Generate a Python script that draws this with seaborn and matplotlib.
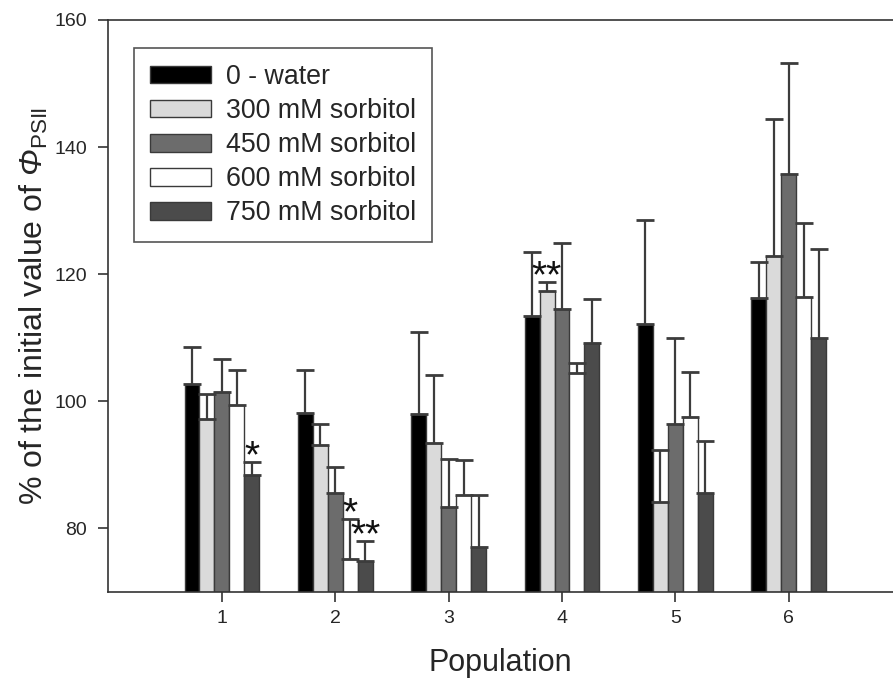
import numpy as np
import pandas as pd
import matplotlib
matplotlib.use("Agg")
import matplotlib.pyplot as plt
from matplotlib.container import BarContainer
import seaborn as sns

populations = ["1", "2", "3", "4", "5", "6"]
treatments = ["0 - water", "300 mM sorbitol", "450 mM sorbitol",
              "600 mM sorbitol", "750 mM sorbitol"]

water = [102.8, 98.2, 98.0, 113.5, 112.1, 116.2]
s300 = [97.2, 93.1, 93.4, 117.4, 84.1, 122.8]
s450 = [101.4, 85.5, 83.3, 114.5, 96.5, 135.8]
s600 = [99.4, 75.2, 85.3, 104.5, 97.6, 116.4]
s750 = [88.4, 74.9, 77.1, 109.1, 85.5, 110.0]

err_water = [5.7, 6.7, 12.9, 10.0, 16.5, 5.8]
err_300 = [4.0, 3.3, 10.7, 1.4, 8.2, 21.7]
err_450 = [5.3, 4.1, 7.6, 10.4, 13.5, 17.4]
err_600 = [5.5, 6.3, 5.5, 1.6, 7.0, 11.6]
err_750 = [2.0, 3.1, 8.1, 7.0, 8.2, 14.0]

# significance marks: (population index, treatment index, label)
marks = [(0, 4, "*"), (1, 3, "*"), (1, 4, "**"), (3, 1, "**")]

colors = ["#000000", "#dadada", "#6c6c6c", "#ffffff", "#4b4b4b"]

values = [water, s300, s450, s600, s750]
errors = [err_water, err_300, err_450, err_600, err_750]

rows = []
for t, vals, errs in zip(treatments, values, errors):
    for p, v, e in zip(populations, vals, errs):
        rows.append({"Population": p, "Treatment": t, "value": v, "err": e})
df = pd.DataFrame(rows)

sns.set_style("ticks")
plt.rcParams["font.family"] = ["Liberation Sans", "DejaVu Sans"]
plt.rcParams["mathtext.fontset"] = "custom"
plt.rcParams["mathtext.rm"] = "Liberation Sans:italic"
plt.rcParams["mathtext.it"] = "Liberation Sans:italic"
plt.rcParams["mathtext.sf"] = "Liberation Sans"

fig = plt.figure(figsize=(8.93, 6.90), dpi=100)
ax = fig.add_axes([108 / 893, 98 / 690, (893 - 108) / 893, 572 / 690])

sns.barplot(data=df, x="Population", y="value", hue="Treatment",
            hue_order=treatments, order=populations, palette=colors,
            errorbar=None, width=0.66, edgecolor="#3a3a3a", linewidth=1.0,
            saturation=1, ax=ax)

bar_conts = [c for c in ax.containers if isinstance(c, BarContainer)]

for ti, cont in enumerate(bar_conts):
    for pi, patch in enumerate(cont.patches):
        xc = patch.get_x() + patch.get_width() / 2
        h = patch.get_height()
        e = errors[ti][pi]
        ax.errorbar(xc, h, yerr=[[0], [e]], fmt="none", ecolor="#3c3c3c",
                    elinewidth=1.6, capsize=6.5, capthick=2.0, zorder=1)

for pi, ti, lab in marks:
    patch = bar_conts[ti].patches[pi]
    xc = patch.get_x() + patch.get_width() / 2
    top = patch.get_height() + errors[ti][pi]
    ax.text(xc, top - 0.8, lab, ha="center", va="baseline", fontsize=28,
            color="#111111")

ax.set_ylim(70, 160)
ax.set_xlim(-1.005, 5.92)
ax.set_yticks([80, 100, 120, 140, 160])
ax.tick_params(axis="both", direction="out", length=7, width=1.2,
               labelsize=14, color="#333333", pad=8)
ax.tick_params(axis="x", pad=6)
for s in ["left", "bottom", "top"]:
    ax.spines[s].set_color("#333333")
    ax.spines[s].set_linewidth(1.2)
ax.spines["right"].set_visible(False)

ax.set_xlabel("Population", fontsize=22, labelpad=15)
ax.set_ylabel(r"% of the initial value of $\Phi_{\mathsf{PSII}}$",
              fontsize=23, labelpad=3)

leg = ax.legend(loc="upper left", bbox_to_anchor=(134 / 893, 1 - 48 / 690),
                bbox_transform=fig.transFigure, fontsize=19.3, frameon=True,
                fancybox=False, framealpha=1, edgecolor="#555555",
                handlelength=2.28, handleheight=0.63, handletextpad=0.55,
                labelspacing=0.3, borderpad=0.6, borderaxespad=0,
                title=None)
leg.get_frame().set_linewidth(1.2)

fig.savefig("out.png", dpi=100)
